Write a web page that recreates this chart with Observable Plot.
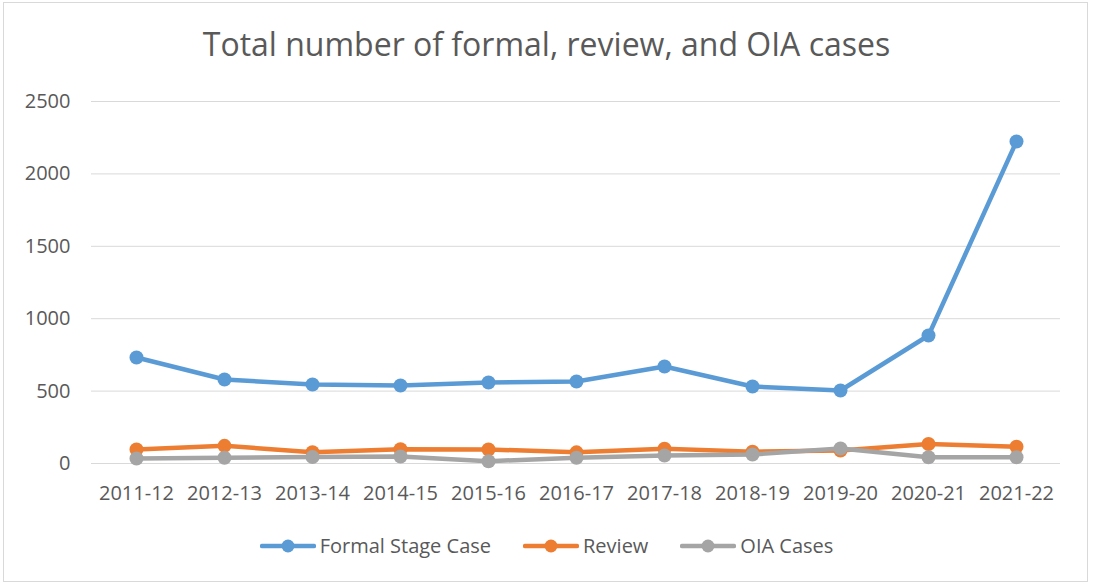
<!DOCTYPE html>
<html>
<head>
<meta charset="utf-8">
<script src="https://cdn.jsdelivr.net/npm/d3@7"></script>
<script src="https://cdn.jsdelivr.net/npm/@observablehq/plot@0.6"></script>
<style>
  html, body { margin: 0; padding: 0; background: #fff; }
  #wrap { position: relative; width: 1093px; height: 585px; overflow: hidden; font-family: "Open Sans", sans-serif; }
  #frame { position: absolute; left: 3px; top: 2px; width: 1085px; height: 580px; border: 1px solid #d9d9d9; box-sizing: border-box; }
  #title { position: absolute; left: 0; width: 1093px; top: 22px; text-align: center; font-size: 32px; color: #595959; }
  #chart { position: absolute; left: 0; top: 0; }
  #legend { position: absolute; left: 0; top: 532px; width: 1093px; display: flex; justify-content: center; gap: 32px; font-size: 20px; color: #595959; }
  .item { display: flex; align-items: center; gap: 4px; }
</style>
</head>
<body>
<div id="wrap">
  <div id="frame"></div>
  <div id="chart"></div>
  <div id="title">Total number of formal, review, and OIA cases</div>
  <div id="legend"></div>
</div>
<script>
const years = ["2011-12","2012-13","2013-14","2014-15","2015-16","2016-17","2017-18","2018-19","2019-20","2020-21","2021-22"];
const formalStage = [732, 580, 546, 539, 559, 566, 670, 532, 504, 884, 2224];
const review = [97, 122, 78, 98, 97, 77, 102, 82, 90, 135, 116];
const oiaCases = [35, 40, 45, 48, 16, 40, 55, 62, 104, 43, 43];
const seriesNames = ["Formal Stage Case", "Review", "OIA Cases"];
const seriesColors = ["#5B9BD5", "#ED7D31", "#A5A5A5"];
const yTicks = [0, 500, 1000, 1500, 2000, 2500];

const allSeries = [formalStage, review, oiaCases];
const rows = [];
allSeries.forEach((vals, si) => {
  vals.forEach((v, i) => rows.push({series: seriesNames[si], year: years[i], value: v, order: si}));
});

const marks = [
  Plot.gridY(yTicks, {stroke: "#d9d9d9", strokeOpacity: 1, strokeWidth: 1})
];
for (let si = 0; si < allSeries.length; si++) {
  const data = rows.filter(d => d.order === si);
  marks.push(Plot.line(data, {x: "year", y: "value", stroke: seriesColors[si], strokeWidth: 4.5, strokeLinejoin: "round"}));
  marks.push(Plot.dot(data, {x: "year", y: "value", fill: seriesColors[si], r: 7}));
}
marks.push(Plot.axisY(yTicks, {tickSize: 0, tickPadding: 21, fontSize: 20, fill: "#595959", label: null, tickFormat: d => String(d)}));
marks.push(Plot.axisX(years, {tickSize: 0, tickPadding: 22, fontSize: 20, fill: "#595959", label: null}));

const chart = Plot.plot({
  width: 1093,
  height: 585,
  marginTop: 101,
  marginBottom: 122,
  marginLeft: 91,
  marginRight: 33,
  style: {fontFamily: "'Open Sans', sans-serif", background: "transparent", color: "#595959"},
  x: {type: "point", domain: years, padding: 0.5},
  y: {domain: [0, 2500]},
  marks
});
document.getElementById("chart").appendChild(chart);

const legend = document.getElementById("legend");
seriesNames.forEach((name, i) => {
  const item = document.createElement("div");
  item.className = "item";
  item.innerHTML = `<svg width="56" height="16"><line x1="2" x2="54" y1="8" y2="8" stroke="${seriesColors[i]}" stroke-width="4.5" stroke-linecap="round"/><circle cx="28" cy="8" r="6.5" fill="${seriesColors[i]}"/></svg><span>${name}</span>`;
  legend.appendChild(item);
});
</script>
</body>
</html>
